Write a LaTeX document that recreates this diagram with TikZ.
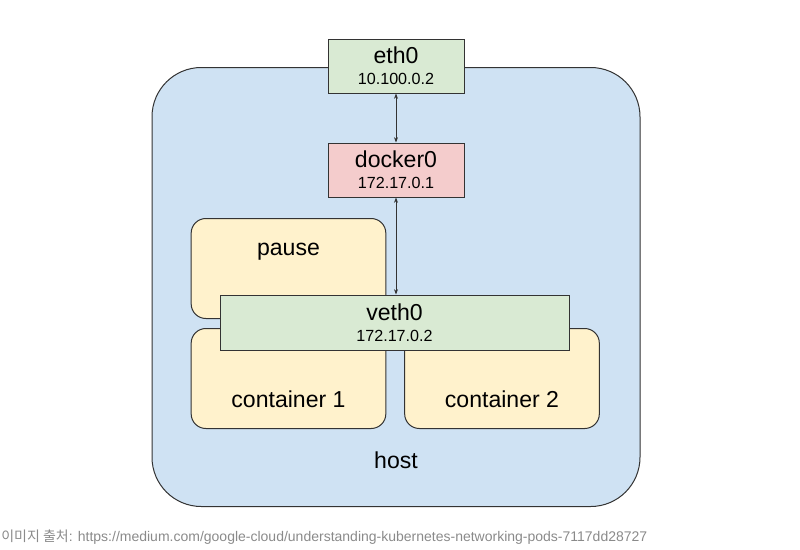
\documentclass[tikz,border=0pt]{standalone}
\usepackage{fontspec}
\setmainfont{Liberation Sans}
\newfontfamily\korfont{Noto Sans CJK KR}
\usetikzlibrary{arrows.meta}
\definecolor{hostblue}{HTML}{CFE2F3}
\definecolor{ifgreen}{HTML}{D9EAD3}
\definecolor{brred}{HTML}{F4CCCC}
\definecolor{podyellow}{HTML}{FFF2CC}
\definecolor{edge}{HTML}{333333}
\definecolor{footgray}{HTML}{8A8A8A}

\begin{document}
\begin{tikzpicture}[
  x=0.75pt, y=-0.75pt,
  host/.style={draw=edge, fill=hostblue, line width=0.75pt, rounded corners=37pt,
               anchor=north, inner ysep=0pt, minimum width=366pt,
               text height=300.75pt, text depth=28.5pt, font=\fontsize{17.3}{18}\selectfont},
  iface/.style={draw=edge, line width=0.75pt, align=center, inner sep=0pt,
                minimum width=102pt, minimum height=40.5pt, font=\fontsize{17.3}{16}\selectfont},
  pod/.style={draw=edge, fill=podyellow, line width=0.75pt, rounded corners=11pt,
              anchor=north, inner ysep=0pt, minimum width=146pt, font=\fontsize{17.3}{18}\selectfont},
  fl/.style={{Stealth[length=4pt,width=3pt]}-{Stealth[length=4pt,width=3pt]}, line width=0.6pt, draw=edge}
]
\useasboundingbox (0,0) rectangle (800,550);

\node[host] (host) at (396,67) {host};

\node[iface, fill=ifgreen] (eth0) at (396,66) {eth0\\{\fontsize{12.1}{16}\selectfont 10.100.0.2}};
\node[iface, fill=brred] (docker0) at (396,170) {docker0\\{\fontsize{12.1}{16}\selectfont 172.17.0.1}};

\node[pod, text height=27.75pt, text depth=47.25pt] (pause) at (288.5,218) {pause};
\node[pod, text height=59.6pt, text depth=15.4pt] (c1) at (288.5,328) {container 1};
\node[pod, text height=59.6pt, text depth=15.4pt] (c2) at (502,328) {container 2};

\node[iface, fill=ifgreen, minimum width=261.75pt, minimum height=41.25pt] (veth0) at (394.5,322.5)
  {veth0\\{\fontsize{12.1}{16}\selectfont 172.17.0.2}};

\draw[fl] (eth0) -- (docker0);
\draw[fl] (docker0.south) -- (docker0.south |- veth0.north);

\node[anchor=west, text=footgray, inner sep=0pt, font=\fontsize{10.5}{12}\selectfont] (credit) at (1,537)
  {{\korfont 이미지 출처}: https://medium.com/google-cloud/understanding-kubernetes-networking-pods-7117dd28727};
\end{tikzpicture}
\end{document}
